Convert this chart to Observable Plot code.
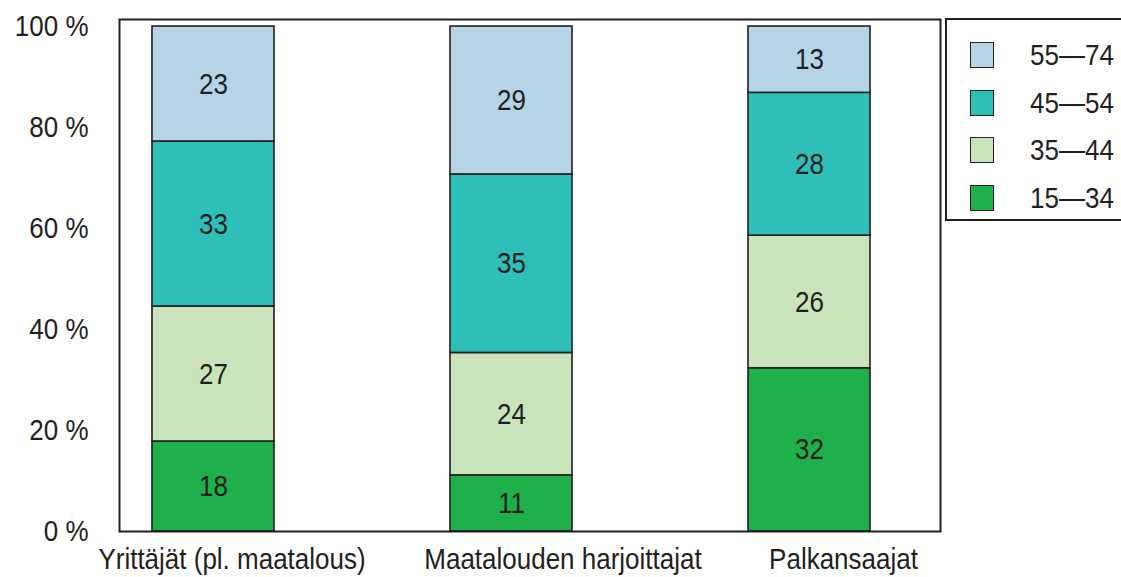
<!DOCTYPE html>
<html>
<head>
<meta charset="utf-8">
<script src="https://cdn.jsdelivr.net/npm/d3@7"></script>
<script src="https://cdn.jsdelivr.net/npm/@observablehq/plot@0.6"></script>
<style>
  html, body { margin: 0; padding: 0; background: #fff; overflow: hidden; }
  #wrap { position: relative; width: 1121px; height: 577px; }
  #legend { position: absolute; left: 945px; top: 18px; width: 220px; height: 199px;
            border: 2px solid #231f20; box-sizing: content-box; background: #fff;
            font-family: "Liberation Sans", Arial, sans-serif; font-size: 26px; color: #231f20; }
  .item { position: absolute; left: 23px; height: 26px; display: flex; align-items: center; }
  .sw { width: 22px; height: 24px; border: 1.5px solid #231f20; }
  .lb { position: absolute; left: 60px; white-space: nowrap; line-height: 26px; transform: scaleY(1.15); transform-origin: 50% 55%; }
</style>
</head>
<body>
<div id="wrap"><div id="chart"></div><div id="legend"></div></div>
<script>
const categories = ["Yrittäjät (pl. maatalous)", "Maatalouden harjoittajat", "Palkansaajat"];
const ageGroups = ["15—34", "35—44", "45—54", "55—74"];
const groupColors = ["#1fb04b", "#c9e3bb", "#2ebfb8", "#b5d4e6"];
const age15_34 = [18, 11, 32];
const age35_44 = [27, 24, 26];
const age45_54 = [33, 35, 28];
const age55_74 = [23, 29, 13];
const yTicks = [0, 0.2, 0.4, 0.6, 0.8, 1];
const labelShift = [18.5, 51.5, 34];

const series = [age15_34, age35_44, age45_54, age55_74];
const data = [];
categories.forEach((c, i) => {
  ageGroups.forEach((g, j) => data.push({cat: c, group: g, value: series[j][i]}));
});

const font = "'Liberation Sans', Arial, sans-serif";
const ink = "#231f20";
const fs = 26;

const chart = Plot.plot({
  width: 1121,
  height: 577,
  marginLeft: 119,
  marginRight: 181,
  marginTop: 19,
  marginBottom: 46,
  style: {fontFamily: font, fontSize: fs + "px", color: ink, background: "transparent"},
  x: {domain: categories, range: [63.3, 958.3], paddingInner: 0.59, paddingOuter: 0.295, axis: null},
  y: {domain: [0, 1.0139], axis: null},
  color: {domain: ageGroups, range: groupColors},
  marks: [
    Plot.barY(data, Plot.stackY({offset: "normalize", x: "cat", y: "value", fill: "group", stroke: ink, strokeWidth: 1.6})),
    Plot.text(data, Plot.stackY({offset: "normalize", x: "cat", y: "value", text: d => String(d.value), fill: ink, fontSize: fs})),
    Plot.axisY({ticks: yTicks, tickFormat: d => Math.round(d * 100) + " %", tickSize: 0, tickPadding: 31, fontSize: fs, label: null}),
    ...categories.map((c, i) => Plot.text([c], {x: d => d, frameAnchor: "bottom", lineAnchor: "top", dy: 16, dx: labelShift[i], fontSize: fs, fill: ink})),
    Plot.frame({stroke: ink, strokeWidth: 2})
  ]
});
// slightly taller glyphs, as in the reference lettering
d3.select(chart).selectAll("text").each(function () {
  const t = this.getAttribute("transform");
  if (t && t.includes("translate")) this.setAttribute("transform", t + " scale(1,1.15)");
});
document.getElementById("chart").appendChild(chart);

const legend = document.getElementById("legend");
const order = [3, 2, 1, 0];
order.forEach((j, k) => {
  const it = document.createElement("div");
  it.className = "item";
  it.style.top = (22 + k * 47.7) + "px";
  const sw = document.createElement("div");
  sw.className = "sw";
  sw.style.background = groupColors[j];
  const lb = document.createElement("div");
  lb.className = "lb";
  lb.textContent = ageGroups[j];
  it.appendChild(sw);
  it.appendChild(lb);
  legend.appendChild(it);
});
</script>
</body>
</html>
